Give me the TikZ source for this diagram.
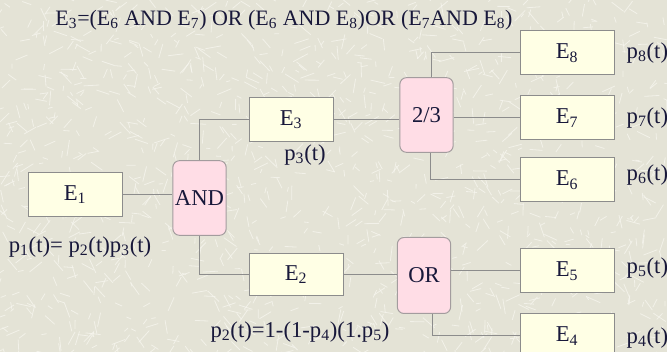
\documentclass[tikz,border=0pt]{standalone}
\usepackage{fontspec}
\setmainfont{Liberation Serif}
\usetikzlibrary{calc}

\definecolor{bgc}{RGB}{228,227,214}
\definecolor{texc}{RGB}{246,245,238}
\definecolor{boxc}{RGB}{255,255,229}
\definecolor{gatec}{RGB}{255,221,230}
\definecolor{linec}{RGB}{140,140,140}
\definecolor{txtc}{RGB}{24,24,58}

\begin{document}
\begin{tikzpicture}[x=0.75pt, y=-0.75pt,
    font=\fontsize{17}{19}\selectfont, text=txtc,
    event/.style={draw=linec, fill=boxc, line width=0.75pt, minimum width=70.5pt, minimum height=33pt, inner sep=0pt},
    gate/.style={draw=linec!80!gatec, fill=gatec, line width=0.75pt, rounded corners=5pt, minimum width=40pt, minimum height=56pt, inner sep=1pt},
    link/.style={draw=linec, line width=0.75pt}]

    % 背景
    \useasboundingbox (0,0) rectangle (667,352);
    \fill[bgc] (0,0) rectangle (667,352);
    \begin{scope}
        \clip (0,0) rectangle (667,352);
        \pgfmathsetseed{11}
        \foreach \i in {1,...,1400}{
            \pgfmathsetmacro{\px}{rnd*680-6}
            \pgfmathsetmacro{\py}{rnd*365-6}
            \pgfmathsetmacro{\pa}{rnd*180}
            \pgfmathsetmacro{\pl}{4+rnd*12}
            \draw[texc, line width=0.6pt, opacity=0.8] (\px,\py) -- ++(\pa:\pl);
        }
    \end{scope}

    % 公式
    \node[font=\fontsize{16.5}{18}\selectfont] (title) at (284,20) {E\textsubscript{3}=(E\textsubscript{6} AND E\textsubscript{7}) OR (E\textsubscript{6} AND E\textsubscript{8})OR (E\textsubscript{7}AND E\textsubscript{8})};

    % 事件框
    \node[event] (E1) at (75,194.5) {E\textsubscript{1}};
    \node[event, minimum width=63pt] (E3) at (291,119.5) {E\textsubscript{3}};
    \node[event, minimum height=32pt] (E2) at (296,274.5) {E\textsubscript{2}};
    \node[event] (E8) at (567,53) {E\textsubscript{8}};
    \node[event] (E7) at (567,118) {E\textsubscript{7}};
    \node[event] (E6) at (567,180) {E\textsubscript{6}};
    \node[event] (E5) at (567,271) {E\textsubscript{5}};
    \node[event] (E4) at (567,336) {E\textsubscript{4}};

    % 门
    \node[gate] (and) at (199.5,198) {AND};
    \node[gate] (vote) at (426.5,115) {2/3};
    \node[gate, minimum height=57pt] (or) at (424,275.5) {OR};

    % 连线
    \draw[link] (E1.east) -- (E1.east -| and.west);
    \draw[link] (and.north) |- (E3.west);
    \draw[link] (and.south) |- (E2.west);
    \draw[link] (E3.east) -- (E3.east -| vote.west);
    \draw[link] ([xshift=4]vote.north) |- (E8.west);
    \draw[link] (E7.west -| vote.east) -- (E7.west);
    \draw[link] ([xshift=3]vote.south) |- (E6.west);
    \draw[link] (E2.east) -- (E2.east -| or.west);
    \draw[link] (E5.west -| or.east) -- (E5.west);
    \draw[link] ([xshift=6]or.south) |- (E4.west);

    % 概率
    \node[anchor=west] (p8) at (622,53) {p\textsubscript{8}(t)};
    \node[anchor=west] (p7) at (622,118) {p\textsubscript{7}(t)};
    \node[anchor=west] (p6) at (622,175) {p\textsubscript{6}(t)};
    \node[anchor=west] (p5) at (622,268) {p\textsubscript{5}(t)};
    \node[anchor=west] (p4) at (622,338) {p\textsubscript{4}(t)};
    \node (p3) at (305,155) {p\textsubscript{3}(t)};
    \node (p1) at (80,247) {p\textsubscript{1}(t)= p\textsubscript{2}(t)p\textsubscript{3}(t)};
    \node (p2) at (300,332) {p\textsubscript{2}(t)=1-(1-p\textsubscript{4})(1.p\textsubscript{5})};
\end{tikzpicture}
\end{document}
